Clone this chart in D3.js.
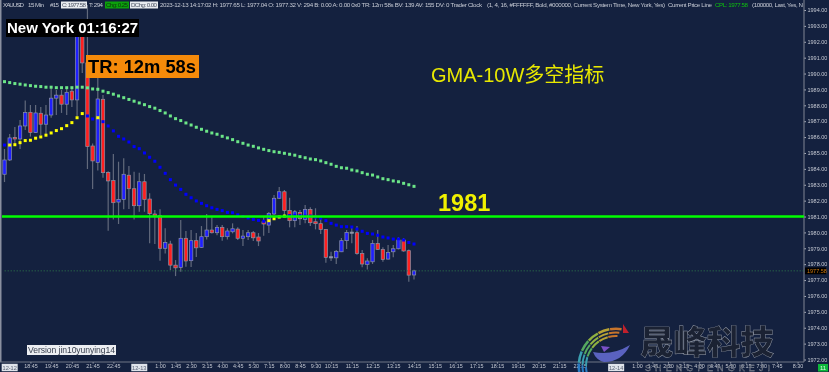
<!DOCTYPE html>
<html>
<head>
<meta charset="utf-8">
<script src="https://cdn.jsdelivr.net/npm/d3@7"></script>
<style>
  html, body { margin: 0; padding: 0; background: #14213f; overflow: hidden; }
  svg { display: block; filter: blur(0.3px); font-family: "Liberation Sans", Arial, sans-serif; }
</style>
</head>
<body>
<svg id="chart" width="829" height="372"></svg>
<script>
// bars, oldest first
const opens = [1983.66,1984.56,1985.98,1985.88,1986.70,1987.56,1986.28,1987.50,1986.81,1987.39,1988.45,1988.64,1988.07,1988.89,1988.34,1992.75,1990.67,1985.44,1984.41,1988.38,1983.78,1983.26,1981.91,1982.08,1983.60,1982.75,1981.68,1983.19,1982.10,1981.16,1981.05,1979.00,1979.27,1977.94,1977.80,1979.63,1978.22,1979.48,1979.06,1979.73,1980.15,1979.98,1980.32,1979.73,1980.04,1980.21,1979.63,1979.73,1979.98,1979.71,1980.67,1980.46,1981.16,1982.15,1982.56,1981.37,1980.74,1981.26,1980.82,1981.45,1980.67,1980.55,1980.19,1978.47,1978.40,1978.78,1979.48,1980.02,1979.98,1978.68,1977.99,1978.15,1979.31,1978.93,1978.32,1978.78,1978.97,1979.52,1978.85,1977.32];
const closes = [1984.56,1985.95,1985.88,1986.70,1987.54,1986.28,1987.52,1986.81,1987.39,1988.45,1988.64,1988.07,1988.82,1988.34,1992.75,1990.67,1985.40,1984.50,1988.40,1983.76,1983.24,1981.87,1982.08,1983.66,1982.75,1981.68,1983.19,1982.08,1981.18,1981.03,1979.00,1979.37,1977.94,1977.77,1979.63,1978.20,1979.48,1979.03,1979.73,1980.15,1979.98,1980.32,1979.73,1980.09,1980.23,1979.63,1979.77,1979.98,1979.66,1979.46,1980.53,1981.20,1982.15,1982.56,1981.37,1980.74,1981.30,1980.86,1981.45,1980.61,1980.55,1980.19,1978.43,1978.43,1978.81,1979.48,1980.00,1980.00,1978.68,1978.01,1978.20,1979.31,1978.93,1978.30,1978.74,1978.97,1979.52,1978.83,1977.31,1977.58];
const highs = [1985.25,1986.20,1986.64,1987.08,1988.30,1988.02,1988.02,1987.90,1988.02,1989.10,1988.97,1988.97,1989.16,1989.16,1993.00,1993.20,1994.32,1985.60,1989.74,1988.65,1983.85,1984.94,1984.45,1984.67,1984.18,1983.82,1983.76,1983.68,1982.46,1981.41,1981.45,1980.26,1979.48,1978.26,1980.78,1980.09,1980.15,1979.96,1980.40,1981.16,1980.95,1980.46,1980.46,1980.26,1980.57,1980.32,1980.15,1980.15,1980.09,1979.96,1980.99,1981.28,1982.35,1982.86,1982.67,1982.18,1981.41,1981.41,1981.72,1981.58,1981.52,1980.92,1980.21,1978.78,1978.89,1979.65,1980.15,1980.36,1980.40,1978.89,1978.37,1979.52,1980.15,1979.06,1979.20,1979.20,1979.69,1979.63,1978.93,1977.65];
const lows = [1983.17,1984.50,1985.50,1985.25,1986.45,1986.03,1986.26,1986.13,1986.20,1987.21,1987.39,1987.52,1987.39,1987.90,1987.33,1990.04,1983.99,1982.73,1983.89,1983.44,1980.11,1980.82,1980.53,1981.45,1981.47,1980.82,1981.30,1981.30,1979.31,1979.27,1978.22,1978.68,1977.63,1977.25,1977.52,1977.84,1977.82,1978.45,1979.02,1979.56,1979.93,1979.82,1979.48,1979.56,1979.94,1979.52,1979.14,1979.52,1979.46,1979.14,1979.79,1979.96,1981.09,1982.10,1981.09,1980.32,1980.32,1980.46,1980.57,1980.40,1980.19,1979.90,1978.09,1978.20,1978.01,1978.76,1978.95,1979.31,1978.60,1977.80,1977.67,1978.01,1978.89,1978.15,1978.30,1978.43,1978.93,1978.78,1976.89,1977.04];

// slow GMA, drawn as green dots
const gmaSlow = [1989.49,1989.43,1989.37,1989.33,1989.28,1989.24,1989.20,1989.18,1989.14,1989.14,1989.11,1989.11,1989.11,1989.11,1989.14,1989.14,1989.10,1989.03,1989.01,1988.89,1988.80,1988.70,1988.59,1988.48,1988.37,1988.26,1988.15,1988.04,1987.92,1987.82,1987.67,1987.52,1987.33,1987.16,1987.04,1986.89,1986.76,1986.62,1986.49,1986.37,1986.26,1986.18,1986.05,1985.95,1985.84,1985.71,1985.61,1985.50,1985.42,1985.32,1985.23,1985.15,1985.08,1985.04,1984.98,1984.92,1984.86,1984.77,1984.70,1984.62,1984.58,1984.50,1984.39,1984.29,1984.16,1984.07,1984.04,1983.93,1983.87,1983.76,1983.66,1983.61,1983.49,1983.38,1983.32,1983.24,1983.19,1983.09,1983.00,1982.90];
// fast GMA, blue dots with a few yellow ones
const gmaFast = [1985.50,1985.50,1985.52,1985.65,1985.78,1985.80,1985.93,1986.01,1986.12,1986.26,1986.41,1986.53,1986.72,1986.91,1987.22,1987.48,1987.33,1987.14,1987.22,1986.97,1986.70,1986.39,1986.05,1985.88,1985.69,1985.40,1985.27,1985.00,1984.73,1984.48,1984.10,1983.72,1983.32,1982.98,1982.71,1982.40,1982.18,1981.98,1981.83,1981.68,1981.55,1981.45,1981.37,1981.26,1981.24,1981.11,1981.00,1980.91,1980.82,1980.76,1980.70,1980.74,1980.86,1980.97,1981.03,1981.06,1981.06,1981.06,1981.03,1981.03,1980.97,1980.89,1980.74,1980.57,1980.46,1980.36,1980.36,1980.34,1980.21,1980.07,1979.94,1979.90,1979.82,1979.71,1979.65,1979.58,1979.58,1979.52,1979.37,1979.27];
const yellowBars = [1,2,3,4,5,6,7,8,9,10,11,12,13,14,15,18,51,52,53,54];

const level = 1981;
const lastPrice = 1977.58;

const timeBars = [5,9,13,17,21,30,33,36,39,42,45,48,51,54,57,60,63,67,71,75,79,83,87,91,95,99,103,107,111,122,125,128,131,134,137,140,143,146,149,153];
const timeLabels = ['18:45','19:45','20:45','21:45','22:45','1:00','1:45','2:30','3:15','4:00','4:45','5:30','7:15','8:00','8:45','9:30','10:15','11:15','12:15','13:15','14:15','15:15','16:15','17:15','18:15','19:15','20:15','21:15','22:15','1:00','1:45','2:30','3:15','4:00','4:45','5:30','6:15','7:00','7:45','8:30'];
const dateBars = [1,26,118];
const dateLabels = ['12-12','12-13','12-14'];
const priceTicks = d3.range(1972,1995);

const margin = {top: 0, right: 804, bottom: 362, left: 2};
const svg = d3.select('#chart');

const xScale = d3.scaleLinear().domain([0,79]).range([4.5,414]);
const yScale = d3.scaleLinear().domain([1972,1994]).range([359.5,10]);

// frame
svg.append('rect').attr('width',829).attr('height',372).attr('fill','#14213f');
svg.append('rect').attr('x',0).attr('y',0).attr('width',1.5).attr('height',margin.bottom).attr('fill','#8a90a0');

// axes
svg.append('g')
    .attr('class','y-axis')
    .attr('transform',`translate(${margin.right},0)`)
    .call(d3.axisRight(yScale).tickValues(priceTicks).tickFormat(d3.format('.2f')).tickSize(2).tickPadding(1.5))
    .call(g => g.select('.domain').remove())
    .call(g => g.selectAll('text').attr('fill','#c4c8d2').style('font-size','5.5px'))
    .call(g => g.selectAll('line').attr('stroke','#a9aebb'));
svg.append('line').attr('x1',margin.right).attr('x2',margin.right).attr('y1',0).attr('y2',margin.bottom)
    .attr('stroke','#6f7686').attr('stroke-width',1.2);

svg.append('g')
    .attr('class','x-axis')
    .attr('transform',`translate(0,${margin.bottom})`)
    .call(d3.axisBottom(xScale).tickValues(timeBars).tickFormat((d,i) => timeLabels[i]).tickSize(1.5).tickPadding(1))
    .call(g => g.select('.domain').remove())
    .call(g => g.selectAll('text').attr('fill','#c4c8d2').style('font-size','5.4px'))
    .call(g => g.selectAll('line').attr('stroke','#a9aebb'));
svg.append('line').attr('x1',0).attr('x2',margin.right).attr('y1',margin.bottom).attr('y2',margin.bottom)
    .attr('stroke','#6f7686').attr('stroke-width',1);

const dates = svg.append('g').selectAll('g').data(dateBars).join('g')
    .attr('transform',d => `translate(${xScale(d)},367.5)`);
dates.append('rect').attr('x',-8).attr('y',-3.7).attr('width',16).attr('height',7.4).attr('fill','#dfe3ea');
dates.append('text').attr('text-anchor','middle').attr('y',2).attr('fill','#5a6375')
    .style('font-size','5.6px').text((d,i) => dateLabels[i]);

// candles
const bars = d3.range(opens.length);
const barColor = i => closes[i] > opens[i] + 0.05 ? '#1f1fff' : (opens[i] > closes[i] + 0.05 ? '#ff1f1f' : '#9aa0ad');

svg.append('g').selectAll('line').data(bars).join('line')
    .attr('x1',xScale).attr('x2',xScale)
    .attr('y1',i => yScale(highs[i])).attr('y2',i => yScale(lows[i]))
    .attr('stroke','#626a7c').attr('stroke-width',1.2);

svg.append('g').selectAll('rect').data(bars).join('rect')
    .attr('x',i => xScale(i) - 1.7)
    .attr('width',3.4)
    .attr('y',i => yScale(Math.max(opens[i],closes[i])))
    .attr('height',i => Math.max(1.2,Math.abs(yScale(opens[i]) - yScale(closes[i]))))
    .attr('fill',barColor)
    .attr('stroke','#8b92a6').attr('stroke-width',0.7);

// indicator dots
svg.append('g').selectAll('rect').data(gmaSlow).join('rect')
    .attr('x',(d,i) => xScale(i) - 1.5).attr('y',d => yScale(d) - 1.5)
    .attr('width',3).attr('height',3)
    .attr('fill','#6ce688');

svg.append('g').selectAll('rect').data(gmaFast).join('rect')
    .attr('x',(d,i) => xScale(i) - 1.5).attr('y',d => yScale(d) - 1.5)
    .attr('width',3).attr('height',3)
    .attr('fill',(d,i) => yellowBars.includes(i) ? '#ffff00' : '#0000ff');

// current price line
svg.append('line')
    .attr('x1',xScale(0)).attr('x2',margin.right)
    .attr('y1',yScale(lastPrice)).attr('y2',yScale(lastPrice))
    .attr('stroke','#2f7a4a').attr('stroke-width',0.7).attr('stroke-dasharray','1.5,1.5');
svg.append('rect').attr('x',805).attr('y',yScale(lastPrice) - 3.4).attr('width',21).attr('height',6.8).attr('fill','#000');
svg.append('text').attr('x',807).attr('y',yScale(lastPrice) + 2).attr('fill','#d07a10')
    .style('font-size','5.5px').text(d3.format('.2f')(lastPrice));

// 1981 level
svg.append('line')
    .attr('x1',margin.left).attr('x2',margin.right)
    .attr('y1',yScale(level)).attr('y2',yScale(level))
    .attr('stroke','#00ff00').attr('stroke-width',2.6);
svg.append('text').attr('x',438).attr('y',211).attr('fill','#f0f000')
    .style('font-size','23.5px').style('font-weight','bold').text(level);

svg.append('text').attr('x',431).attr('y',82).attr('fill','#e8e800')
    .style('font-family','"Liberation Sans","Noto Sans CJK SC",sans-serif')
    .style('font-size','20px').text('GMA-10W多空指标');

// header strip
const header = svg.append('g').style('font-size','6.2px').attr('fill','#c6cad4');
[['XAUUSD',3,21],['15 Min',28,16],['#15',50,9],['T: 294',89,14],
 ['2023-12-13 14:17:02 H: 1977.65 L: 1977.04 O: 1977.32 V: 294 B: 0.00 A: 0.00 0x0 TR: 12m 58s BV: 139 AV: 155 DV: 0 Trader Clock',160,322],
 ['(1, 4, 16, #FFFFFF, Bold, #000000, Current System Time, New York, Yes)',487,178],
 ['Current Price Line',668,44],['(100000, Last, Yes, N',752,51]]
 .forEach(([t,x,w]) => header.append('text').attr('x',x).attr('y',7).attr('textLength',w).text(t));
svg.append('text').attr('x',715).attr('y',7).attr('textLength',33).style('font-size','6.2px').attr('fill','#0ec20e').text('CPL: 1977.58');

svg.append('rect').attr('x',61).attr('y',1.5).attr('width',26).attr('height',7).attr('fill','#e8ebf0');
svg.append('text').attr('x',62).attr('y',7).attr('textLength',24).style('font-size','6.2px').attr('fill','#4a5262').text('C: 1977.58');
svg.append('rect').attr('x',105).attr('y',1.5).attr('width',24).attr('height',7).attr('fill','#0ca00c');
svg.append('text').attr('x',106).attr('y',7).attr('textLength',22).style('font-size','6.2px').attr('fill','#0b3a0b').text('Chg: 0.25');
svg.append('rect').attr('x',130).attr('y',1.5).attr('width',28).attr('height',7).attr('fill','#e8ebf0');
svg.append('text').attr('x',131).attr('y',7).attr('textLength',26).style('font-size','6.2px').attr('fill','#4a5262').text('DChg: 0.00');

// clock and timer boxes
svg.append('rect').attr('x',6).attr('y',19).attr('width',133).attr('height',18).attr('fill','#000');
svg.append('text').attr('x',7).attr('y',33).attr('fill','#fff')
    .style('font-size','15px').style('font-weight','bold').text('New York 01:16:27');

svg.append('rect').attr('x',86).attr('y',55).attr('width',113).attr('height',23).attr('fill','#f58a0a');
svg.append('text').attr('x',88).attr('y',72.5).attr('fill','#000')
    .style('font-size','18.5px').style('font-weight','bold')
    .attr('textLength',108).attr('lengthAdjust','spacingAndGlyphs').text('TR: 12m 58s');

// version stamp
svg.append('rect').attr('x',27).attr('y',345).attr('width',89).attr('height',10).attr('fill','#eceef2');
svg.append('text').attr('x',28).attr('y',353).attr('fill','#39404f')
    .style('font-size','8.6px').attr('textLength',87).text('Version jin10yunying14');

// bars-left flag in the corner
svg.append('rect').attr('x',818).attr('y',364).attr('width',10).attr('height',7.5).attr('fill','#0cb83a');
svg.append('text').attr('x',823).attr('y',370).attr('text-anchor','middle').attr('fill','#dff5e4').style('font-size','6px').text('11');

// watermark logo
const logo = svg.append('g').attr('transform','translate(616,366)');
const arc = d3.arc();
const logoColors = ['#c8752c','#b8a235','#8fb040','#55a860','#3a9fb0','#2a7cc4','#2468b8'];
[[36,38.5],[32.5,34.5],[29,31]].forEach(([r0,r1],k) => {
  logoColors.forEach((c,i) => {
    const a0 = 0.15 - i * 0.33 - k * 0.05;
    logo.append('path')
        .attr('d',arc({innerRadius:r0,outerRadius:r1,startAngle:a0,endAngle:a0 - 0.31}))
        .attr('fill',c);
  });
});
svg.append('path').attr('d','M623,324 L629,333 L623,333 Z').attr('fill','#c0202c');
svg.append('path').attr('d','M593,352 Q612,356 630,345 Q622,362 604,362 Q596,360 593,352 Z').attr('fill','#5a62c0');
svg.append('path').attr('d','M601,346 L610,347 L604,352 Z').attr('fill','#7a50c8');

svg.append('text').attr('x',640).attr('y',354)
    .style('font-family','"Noto Sans CJK SC",sans-serif').style('font-size','33.5px').style('font-weight','900')
    .attr('fill','#1b2233').attr('stroke','#9aa0ac').attr('stroke-width',0.4)
    .text('晟峰科技');
svg.append('text').attr('x',645).attr('y',371).attr('textLength',125)
    .style('font-size','9px').attr('fill','#20283a').attr('stroke','#a8adb8').attr('stroke-width',0.3)
    .text('SHENGFENGKEJI');
</script>
</body>
</html>
